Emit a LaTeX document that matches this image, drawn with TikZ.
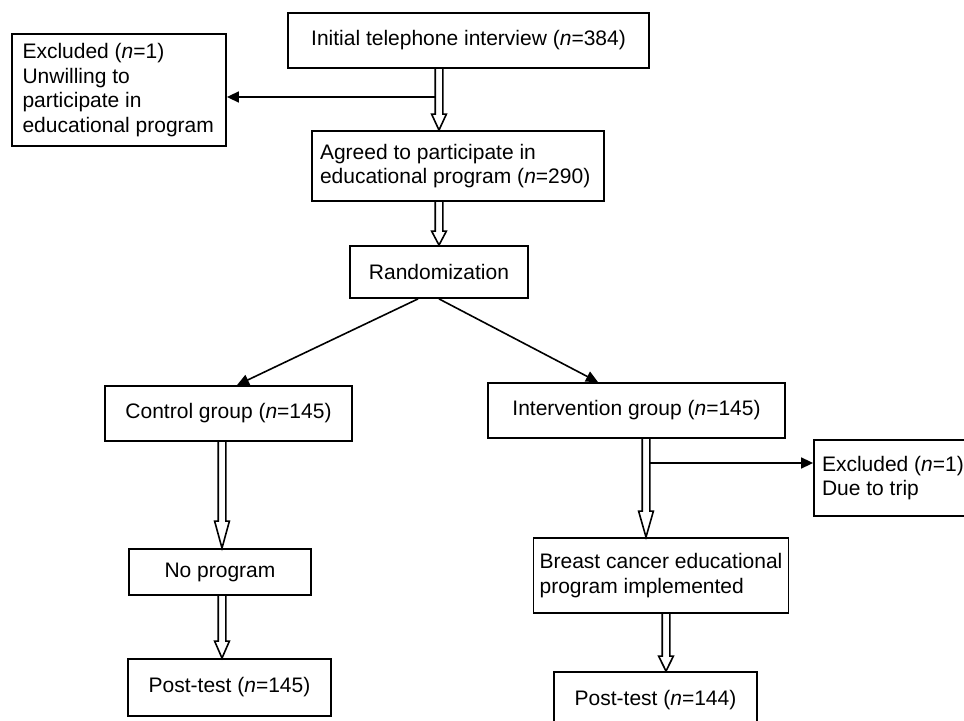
\documentclass[tikz,border=0pt]{standalone}
\usepackage{fontspec}
\setmainfont{Liberation Sans}
\usetikzlibrary{arrows.meta,calc}

\newcommand\fatarrow[4]{%
    \draw[fat] let \p1=(#1,0), \p2=(#2.south), \p3=(#3.north) in
        (\x1-1.9pt,\y2) -- (\x1-1.9pt,\y3+#4) -- (\x1-3.7pt,\y3+#4) -- (\x1,\y3)
        -- (\x1+3.7pt,\y3+#4) -- (\x1+1.9pt,\y3+#4) -- (\x1+1.9pt,\y2);}

\begin{document}
\begin{tikzpicture}[x=0.5pt, y=-0.5pt,
        box/.style={draw, line width=0.9pt, inner sep=0pt,
                    font=\fontsize{10.5}{12.4}\selectfont, align=center},
        listbox/.style={box, align=flush left},
        link/.style={line width=0.8pt, -{Triangle[length=6pt, width=5.5pt]}},
        fat/.style={line width=0.8pt, line join=miter}]
    \useasboundingbox (0,0) rectangle (964,721);
    \node[box, minimum width=180.5pt, minimum height=27.5pt] (init) at (468.5,40.5)
        {Initial telephone interview (\textit{n}=384)};
    \node[listbox, text width=96.5pt, inner xsep=5.25pt, minimum height=56pt] (excl1) at (119,90)
        {Excluded (\textit{n}=1)\\Unwilling to\\participate in\\educational program};
    \node[listbox, text width=138pt, inner xsep=4pt, minimum height=35pt] (agreed) at (458,166)
        {Agreed to participate in\\educational program (\textit{n}=290)};
    \node[box, minimum width=89pt, minimum height=26pt] (rand) at (439,272) {Randomization};
    \node[box, minimum width=123.5pt, minimum height=27.5pt] (control) at (228.5,413.5)
        {Control group (\textit{n}=145)};
    \node[box, minimum width=148.5pt, minimum height=27.5pt] (interv) at (636.5,410.5)
        {Intervention group (\textit{n}=145)};
    \node[listbox, text width=72pt, inner xsep=4pt, minimum height=38pt] (excl2) at (894,478)
        {Excluded (\textit{n}=1)\\Due to trip};
    \node[box, minimum width=91pt, minimum height=23pt] (noprog) at (220,572) {No program};
    \node[box, minimum width=101.5pt, minimum height=28.5pt] (post1) at (229.5,687.5)
        {Post-test (\textit{n}=145)};
    \node[box, align=left, inner xsep=3pt, minimum height=37.5pt] (breast) at (661,575.5)
        {Breast cancer educational\\program implemented};
    \node[box, minimum width=101.5pt, minimum height=28.5pt] (post2) at (655.5,700.5)
        {Post-test (\textit{n}=144)};

    \coordinate (split1) at (435,97);
    \coordinate (split2) at (650,463);
    \draw[link] (split1) -- (split1 -| excl1.east);
    \draw[link] (split2) -- (split2 -| excl2.west);
    \draw[link] ([xshift=-10.5pt]rand.south) -- ([xshift=4.25pt]control.north);
    \draw[link] (rand.south) -- ([xshift=-19.25pt]interv.north);

    \fatarrow{439}{init}{agreed}{8pt}
    \fatarrow{439}{agreed}{rand}{7pt}
    \fatarrow{222}{control}{noprog}{13.5pt}
    \fatarrow{222}{noprog}{post1}{8.5pt}
    \fatarrow{646}{interv}{breast}{13pt}
    \fatarrow{666}{breast}{post2}{7.5pt}
\end{tikzpicture}
\end{document}
